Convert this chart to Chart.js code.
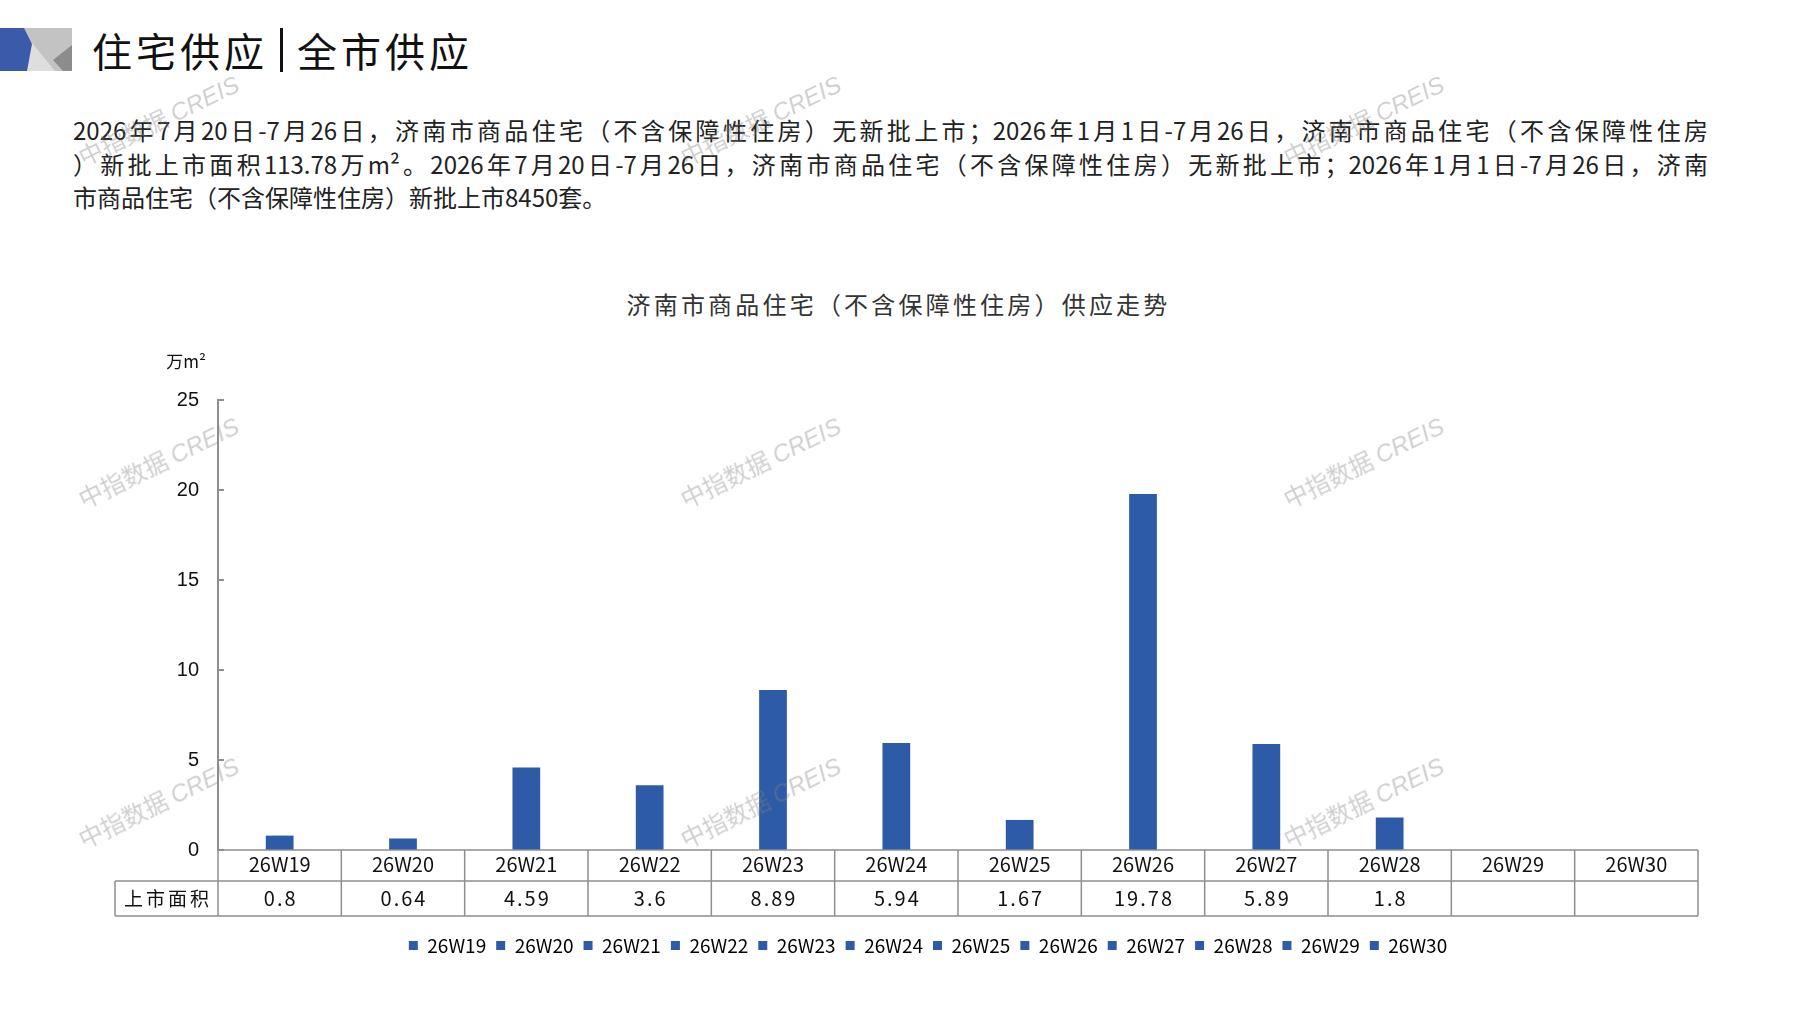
<!DOCTYPE html>
<html lang="zh-CN">
<head>
<meta charset="UTF-8">
<title>住宅供应 | 全市供应</title>
<script src="https://cdn.jsdelivr.net/npm/chart.js"></script>
<style>
  html, body { margin: 0; padding: 0; background: #fff; }
  body {
    width: 1797px; height: 1010px; position: relative; overflow: hidden;
    font-family: 'Liberation Sans Narrow', 'Noto Sans CJK SC', sans-serif; color: #222;
  }
  .logo { position: absolute; left: 0; top: 28px; }
  .head {
    position: absolute; left: 92px; top: 22px; height: 56px;
    display: flex; align-items: center;
    font-family: 'Noto Sans CJK SC', sans-serif; font-size: 40px; letter-spacing: 4px; color: #111;
  }
  .head .sep { width: 3px; height: 44px; background: #111; margin: 0 14px 0 12px; }
  .para { position: absolute; left: 73px; top: 113px; width: 1635px; font-size: 24px; line-height: 33.5px; }
  .para .j { text-align: justify; text-align-last: justify; }
  .ctitle {
    position: absolute; left: 0; top: 288px; width: 1797px; text-align: center;
    font-family: 'Noto Sans CJK SC', sans-serif; font-size: 24px; line-height: 32px;
    letter-spacing: 3.2px; color: #333;
  }
  #wrap { position: absolute; left: 0; top: 280px; width: 1797px; height: 730px; }
  .wm {
    position: absolute; z-index: 5; pointer-events: none; white-space: nowrap;
    font-family: 'Noto Sans CJK SC', sans-serif; font-size: 24px; color: rgba(130,130,130,0.38);
    transform: translate(-50%, -50%) rotate(-26deg);
  }
  .wm i { font-family: 'Liberation Sans', sans-serif; }
</style>
</head>
<body>

<svg class="logo" width="72" height="43" viewBox="0 0 72 43">
  <rect x="20" y="0" width="52" height="43" fill="#c3c3c3"/>
  <polygon points="28,10 55,43 26,43" fill="#dedede"/>
  <polygon points="72,17 53,32 63,43 72,43" fill="#8c8c8c"/>
  <polygon points="0,0 24,0 32,16 27,43 0,43" fill="#3b5aa9"/>
</svg>
<div class="head"><span>住宅供应</span><span class="sep"></span><span>全市供应</span></div>

<div class="para">
  <div class="j">2026年7月20日-7月26日，济南市商品住宅（不含保障性住房）无新批上市；2026年1月1日-7月26日，济南市商品住宅（不含保障性住房</div>
  <div class="j">）新批上市面积113.78万m²。2026年7月20日-7月26日，济南市商品住宅（不含保障性住房）无新批上市；2026年1月1日-7月26日，济南</div>
  <div>市商品住宅（不含保障性住房）新批上市8450套。</div>
</div>

<div class="ctitle">济南市商品住宅（不含保障性住房）供应走势</div>

<div id="wrap"><canvas id="chart"></canvas></div>

<div class="wm" style="left:158px;top:119px">中指数据 <i>CREIS</i></div>
<div class="wm" style="left:760px;top:119px">中指数据 <i>CREIS</i></div>
<div class="wm" style="left:1363px;top:119px">中指数据 <i>CREIS</i></div>
<div class="wm" style="left:158px;top:461px">中指数据 <i>CREIS</i></div>
<div class="wm" style="left:760px;top:461px">中指数据 <i>CREIS</i></div>
<div class="wm" style="left:1363px;top:461px">中指数据 <i>CREIS</i></div>
<div class="wm" style="left:158px;top:801px">中指数据 <i>CREIS</i></div>
<div class="wm" style="left:760px;top:801px">中指数据 <i>CREIS</i></div>
<div class="wm" style="left:1363px;top:801px">中指数据 <i>CREIS</i></div>

<script>
  const weeks = ['26W19', '26W20', '26W21', '26W22', '26W23', '26W24',
                 '26W25', '26W26', '26W27', '26W28', '26W29', '26W30'];
  const areaValues = [0.8, 0.64, 4.59, 3.6, 8.89, 5.94, 1.67, 19.78, 5.89, 1.8, null, null];
  const rowLabel = '上市面积';
  const unitLabel = '万m²';
  const yMax = 25;
  const yStep = 5;

  const barColor = '#2e5ba7';
  const lineColor = '#8f8f8f';
  const narrowFont = '"Liberation Sans Narrow", "Noto Sans CJK SC", sans-serif';

  // data table under the axis, inner y ticks and the unit label
  const supplyTable = {
    id: 'supplyTable',
    afterDraw(chart) {
      const { ctx, chartArea, scales: { x, y } } = chart;
      const n = weeks.length;
      const colW = x.getPixelForValue(1) - x.getPixelForValue(0);
      const edges = [];
      for (let i = 0; i <= n; i++) edges.push(x.getPixelForValue(0) - colW / 2 + i * colW);
      const y0 = chartArea.bottom, y1 = y0 + 31, y2 = y1 + 35;
      const headLeft = 115;

      ctx.save();
      ctx.strokeStyle = lineColor;
      ctx.lineWidth = 1.5;
      ctx.beginPath();
      ctx.moveTo(edges[0], y0); ctx.lineTo(edges[n], y0);
      ctx.moveTo(headLeft, y1); ctx.lineTo(edges[n], y1);
      ctx.moveTo(headLeft, y2); ctx.lineTo(edges[n], y2);
      for (const e of edges) { ctx.moveTo(e, y0); ctx.lineTo(e, y2); }
      ctx.moveTo(headLeft, y1); ctx.lineTo(headLeft, y2);
      ctx.stroke();

      // ticks pointing into the plot
      ctx.lineWidth = 2;
      ctx.beginPath();
      y.ticks.forEach(t => {
        const py = y.getPixelForValue(t.value);
        ctx.moveTo(chartArea.left, py); ctx.lineTo(chartArea.left + 6, py);
      });
      ctx.stroke();

      ctx.fillStyle = '#111';
      ctx.textAlign = 'center';
      ctx.textBaseline = 'middle';
      ctx.font = '20px ' + narrowFont;
      weeks.forEach((w, i) => {
        const cx = x.getPixelForValue(i);
        ctx.fillText(w, cx, (y0 + y1) / 2 - 1);
      });
      ctx.letterSpacing = '2px';
      areaValues.forEach((v, i) => {
        if (v == null) return;
        ctx.fillText(String(v), x.getPixelForValue(i) + 1, (y1 + y2) / 2);
      });
      ctx.font = '19px "Noto Sans CJK SC", sans-serif';
      ctx.letterSpacing = '3px';
      ctx.fillText(rowLabel, (headLeft + edges[0]) / 2 + 1.5, (y1 + y2) / 2);

      ctx.letterSpacing = '0px';
      ctx.font = '17px "Noto Sans CJK SC", sans-serif';
      ctx.fillText(unitLabel, chartArea.left - 32, chartArea.top - 38);
      ctx.restore();
    }
  };

  const chartCanvas = document.getElementById('chart').getContext('2d');

  new Chart(chartCanvas, {
    type: 'bar',
    data: {
      labels: weeks,
      datasets: [{
        label: rowLabel,
        data: areaValues,
        backgroundColor: barColor,
        borderWidth: 0,
        categoryPercentage: 1,
        barPercentage: 0.225,
      }],
    },
    options: {
      responsive: true,
      maintainAspectRatio: false,
      animation: false,
      layout: { padding: { top: 120, left: 158, right: 99, bottom: 45 } },
      plugins: {
        tooltip: { enabled: false },
        legend: {
          position: 'bottom',
          labels: {
            boxWidth: 9,
            boxHeight: 9,
            padding: 10,
            color: '#111',
            font: { size: 19, family: narrowFont },
            generateLabels: () => weeks.map((w, i) => ({
              text: w, fillStyle: barColor, strokeStyle: barColor, lineWidth: 0,
              hidden: false, index: i, datasetIndex: 0,
            })),
          },
        },
      },
      scales: {
        x: {
          grid: { display: false },
          border: { display: false },
          ticks: { display: false },
          afterFit: s => { s.height = 76; },
        },
        y: {
          min: 0,
          max: yMax,
          ticks: {
            stepSize: yStep,
            padding: 19,
            color: '#111',
            font: { size: 20, family: '"Liberation Sans", sans-serif' },
          },
          grid: { display: false, drawTicks: false },
          border: { display: true, color: lineColor, width: 2 },
          afterFit: s => { s.width = 60; },
        },
      },
    },
    plugins: [supplyTable],
  });
</script>
</body>
</html>
